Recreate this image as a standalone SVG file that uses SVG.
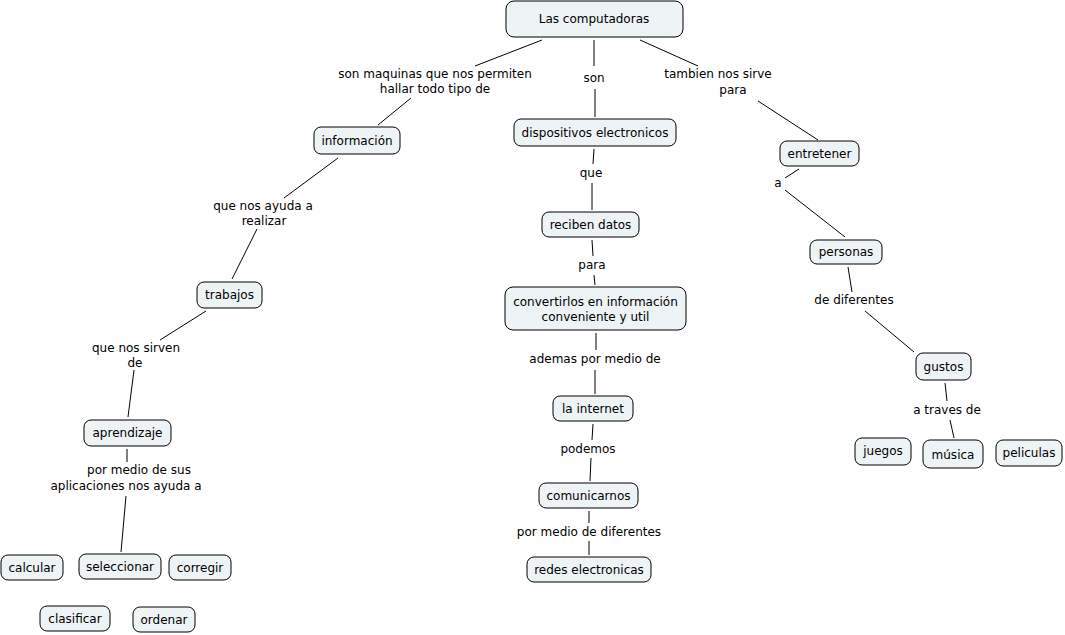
<svg xmlns="http://www.w3.org/2000/svg" width="1065" height="635" viewBox="0 0 1065 635">
<style>
.n rect{fill:#eef3f5;stroke:#000;stroke-width:1}
text{font-family:"DejaVu Sans",Verdana,sans-serif;font-size:12px;fill:#000;text-anchor:middle}
.c line{stroke:#000;stroke-width:1}
</style>
<rect width="1065" height="635" fill="#fff"/>
<g class="c">
<line x1="542" y1="40" x2="475" y2="66"/>
<line x1="411" y1="98" x2="378" y2="125"/>
<line x1="594" y1="40" x2="594" y2="66"/>
<line x1="595" y1="89" x2="595" y2="117"/>
<line x1="640" y1="40" x2="698" y2="66"/>
<line x1="758" y1="101" x2="818" y2="140"/>
<line x1="594" y1="149" x2="593" y2="164"/>
<line x1="592" y1="183" x2="592" y2="210"/>
<line x1="592" y1="240" x2="593" y2="256"/>
<line x1="594" y1="275" x2="595" y2="285"/>
<line x1="596" y1="333" x2="596" y2="350"/>
<line x1="595" y1="370" x2="595" y2="394"/>
<line x1="593" y1="424" x2="592" y2="440"/>
<line x1="591" y1="458" x2="590" y2="481"/>
<line x1="589" y1="511" x2="589" y2="523"/>
<line x1="589" y1="541" x2="589" y2="555"/>
<line x1="799" y1="169" x2="785" y2="178"/>
<line x1="785" y1="190" x2="845" y2="237"/>
<line x1="848" y1="267" x2="852" y2="292"/>
<line x1="865" y1="311" x2="914" y2="352"/>
<line x1="945" y1="383" x2="947" y2="401"/>
<line x1="950" y1="420" x2="954" y2="438"/>
<line x1="338" y1="158" x2="284" y2="198"/>
<line x1="257" y1="229" x2="232" y2="279"/>
<line x1="206" y1="311" x2="160" y2="340"/>
<line x1="134" y1="370" x2="128" y2="417"/>
<line x1="127" y1="449" x2="127" y2="462"/>
<line x1="126" y1="496" x2="121" y2="552"/>
</g>
<g id="labels">
<text x="435" y="78">son maquinas que nos permiten</text>
<text x="435" y="93">hallar todo tipo de</text>
<text x="594" y="82">son</text>
<text x="718" y="78">tambien nos sirve</text>
<text x="733" y="94">para</text>
<text x="591" y="177">que</text>
<text x="592" y="269">para</text>
<text x="595" y="363">ademas por medio de</text>
<text x="588" y="453">podemos</text>
<text x="589" y="536">por medio de diferentes</text>
<text x="778" y="187">a</text>
<text x="854" y="304">de diferentes</text>
<text x="947" y="414">a traves de</text>
<text x="263" y="210">que nos ayuda a</text>
<text x="264" y="225">realizar</text>
<text x="136" y="352">que nos sirven</text>
<text x="135" y="367">de</text>
<text x="139" y="474">por medio de sus</text>
<text x="126" y="490">aplicaciones nos ayuda a</text>
</g>
<g id="n1" class="n"><rect x="506" y="1" width="177" height="36" rx="8"/><text x="594" y="23">Las computadoras</text></g>
<g id="n2" class="n"><rect x="314" y="127" width="86" height="27" rx="7"/><text x="357" y="145">información</text></g>
<g id="n3" class="n"><rect x="514" y="119" width="162" height="27" rx="7"/><text x="595" y="137">dispositivos electronicos</text></g>
<g id="n4" class="n"><rect x="780" y="141" width="79" height="25" rx="7"/><text x="819.5" y="158">entretener</text></g>
<g id="n5" class="n"><rect x="542" y="212" width="97" height="25" rx="7"/><text x="590.5" y="229">reciben datos</text></g>
<g id="n6" class="n"><rect x="505" y="287" width="181" height="43" rx="8"/><text x="595.5" y="306">convertirlos en información</text><text x="595.5" y="321">conveniente y util</text></g>
<g id="n7" class="n"><rect x="553" y="396" width="80" height="25" rx="7"/><text x="593" y="413">la internet</text></g>
<g id="n8" class="n"><rect x="539" y="483" width="99" height="25" rx="7"/><text x="588.5" y="500">comunicarnos</text></g>
<g id="n9" class="n"><rect x="527" y="557" width="124" height="25" rx="7"/><text x="589" y="574">redes electronicas</text></g>
<g id="n10" class="n"><rect x="810" y="240" width="72" height="24" rx="7"/><text x="846" y="256">personas</text></g>
<g id="n11" class="n"><rect x="916" y="353" width="55" height="27" rx="7"/><text x="943.5" y="371">gustos</text></g>
<g id="n12" class="n"><rect x="855" y="438" width="56" height="27" rx="7"/><text x="883" y="455">juegos</text></g>
<g id="n13" class="n"><rect x="923" y="440" width="60" height="28" rx="7"/><text x="953" y="459">música</text></g>
<g id="n14" class="n"><rect x="996" y="440" width="66" height="26" rx="7"/><text x="1029" y="457">peliculas</text></g>
<g id="n15" class="n"><rect x="197" y="282" width="65" height="26" rx="7"/><text x="229.5" y="299">trabajos</text></g>
<g id="n16" class="n"><rect x="84" y="420" width="87" height="26" rx="7"/><text x="127.5" y="437">aprendizaje</text></g>
<g id="n17" class="n"><rect x="1" y="555" width="62" height="25" rx="7"/><text x="32" y="572">calcular</text></g>
<g id="n18" class="n"><rect x="79" y="554" width="82" height="25" rx="7"/><text x="120" y="571">seleccionar</text></g>
<g id="n19" class="n"><rect x="169" y="555" width="62" height="25" rx="7"/><text x="200" y="572">corregir</text></g>
<g id="n20" class="n"><rect x="40" y="606" width="70" height="25" rx="7"/><text x="75" y="623">clasificar</text></g>
<g id="n21" class="n"><rect x="133" y="607" width="62" height="25" rx="7"/><text x="164" y="624">ordenar</text></g>
</svg>
